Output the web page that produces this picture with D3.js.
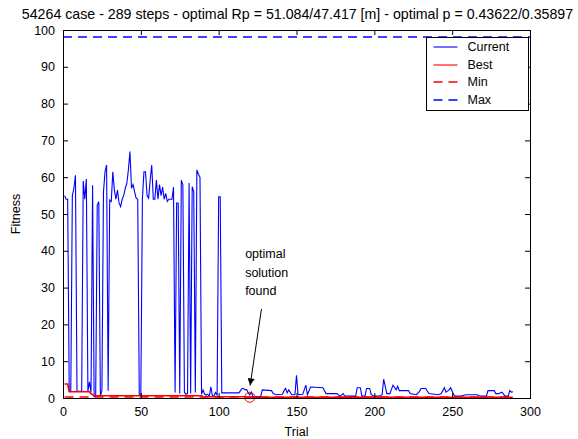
<!DOCTYPE html>
<html>
<head>
<meta charset="utf-8">
<script src="https://cdn.jsdelivr.net/npm/d3@7"></script>
<style>
  body { margin: 0; background: #fff; }
  svg { display: block; font-family: "Liberation Sans", Arial, sans-serif; }
</style>
</head>
<body>
<div id="chart"></div>
<script>
// chart data
const titleText = "54264 case - 289 steps - optimal Rp = 51.084/47.417 [m] - optimal p = 0.43622/0.35897";
const xTicks = [0, 50, 100, 150, 200, 250, 300];
const yTicks = [0, 10, 20, 30, 40, 50, 60, 70, 80, 90, 100];

// current fitness per trial [trial, value]
const current = [
  [1,55],[2,54],[3,54],[4,1.8],[5,1.8],[6,55],[7,57],[8,60.5],[9,1.8],[10,1.8],
  [11,1.8],[12,1.8],[13,59],[14,54],[15,59.5],[16,1.8],[17,4.4],[18,1.5],[19,57.8],[20,0.4],
  [21,0.5],[22,52.5],[23,53.3],[24,0.5],[25,2],[26,56],[27,61.5],[28,63.3],[29,2],[30,53.8],
  [31,53.4],[32,61.5],[33,56.5],[34,54],[35,56.5],[36,53],[37,52],[38,54],[39,55],[40,57],
  [41,58.3],[42,62],[43,67],[44,57],[45,58],[46,56],[47,54.3],[48,54],[49,0.8],[50,0.8],
  [51,54],[52,61.5],[53,61.5],[54,55],[55,54.3],[56,59.2],[57,63.3],[58,54],[59,54],[60,59.2],
  [61,54],[62,58],[63,55],[64,57.3],[65,54],[66,55.6],[67,53.4],[68,54],[69,54],[70,54],
  [71,57.3],[72,1.5],[73,53],[74,53],[75,1.2],[76,59.2],[77,57.9],[78,1.5],[79,1.0],[80,1.2],
  [81,58.4],[82,1.2],[83,57.4],[84,56],[85,1.5],[86,62],[87,60.8],[88,60],[89,1.0],[90,2.2],
  [91,1],[92,0.8],[93,1],[94,0.6],[95,3],[96,0.5],[97,0.6],[98,1.5],[99,0.8],[100,54.7],
  [101,54.7],[102,1.4],[113,1.4],[115,2.6],[116,2.6],[117,2.2],[118,2.3],[119,1.4],[120,0.9],
  [121,1.6],[122,0.4],[127,0.4],[128,2.2],[134,2.0],[135,1.2],[137,0.9],[141,1.0],[142,2.0],
  [143,2.6],[144,1.4],[145,2.2],[147,0.9],[149,0.9],[150,6.2],[151,0.9],[154,1.0],[156,3.5],
  [157,0.9],[159,3.0],[167,2.8],[169,1.2],[176,1.2],[178,0.5],[180,1.2],[181,0.5],[188,0.5],
  [189,2.8],[191,2.8],[192,0.5],[194,0.5],[195,2.6],[197,2.6],[198,0.9],[200,0.5],[203,0.5],
  [205,0.9],[206,5.1],[208,1.2],[210,1.2],[212,3.5],[214,2.2],[215,3.2],[216,2.0],[222,2.0],
  [223,1.2],[227,0.9],[229,1.8],[230,2.6],[233,2.6],[235,1.2],[241,0.9],[243,1.2],[245,2.8],
  [246,1.6],[248,2.2],[249,2.8],[251,0.9],[252,0.5],[256,0.6],[259,0.9],[266,0.9],[268,0.5],
  [272,0.5],[273,2.0],[277,2.0],[278,1.2],[280,1.2],[282,1.6],[284,0.5],[286,0.5],[287,2.0],
  [288,1.6],[289,1.7]
];

// best fitness so far [trial, value]
const best = [
  [1,3.8],[3,3.8],[4,1.7],[17,1.7],[18,1.2],[20,0.6],[89,0.6],[90,0.35],[120,0.35],[121,0.2],[289,0.2]
];

const minValue = 0.2;
const maxValue = 98;
const optimalTrial = 120;
const optimalValue = 0.2;

const legendLabels = ["Current", "Best", "Min", "Max"];
const annotationLines = ["optimal", "solution", "found"];

// layout
const W = 578, H = 439;
const margin = {top: 30, right: 48, bottom: 41, left: 63};
const width = W - margin.left - margin.right;
const height = H - margin.top - margin.bottom;

const svgRoot = d3.select("#chart").append("svg")
  .attr("width", W).attr("height", H);

const svg = svgRoot.append("g")
  .attr("transform", `translate(${margin.left},${margin.top})`);

const x = d3.scaleLinear().domain([0, 300]).range([0, width]);
const y = d3.scaleLinear().domain([0, 100]).range([height, 0]);

// title
svgRoot.append("text")
  .attr("x", margin.left + width / 2 + 1)
  .attr("y", 19)
  .attr("text-anchor", "middle")
  .attr("font-size", "14.2px")
  .text(titleText);

// data lines
const line = d3.line().x(d => x(d[0])).y(d => y(d[1]));

// max / min reference lines (dashed)
svg.append("line")
  .attr("x1", x(0)).attr("x2", x(300))
  .attr("y1", Math.round(y(maxValue))).attr("y2", Math.round(y(maxValue)))
  .attr("stroke", "#0000ff").attr("stroke-width", 1.4)
  .attr("stroke-dasharray", "9,6");

svg.append("line")
  .attr("x1", x(1)).attr("x2", x(289))
  .attr("y1", Math.round(y(minValue))).attr("y2", Math.round(y(minValue)))
  .attr("stroke", "#ff0000").attr("stroke-width", 1.4)
  .attr("stroke-dasharray", "9,6");

svg.append("path")
  .datum(current)
  .attr("fill", "none").attr("stroke", "#0000ff").attr("stroke-width", 1.1)
  .attr("d", line);

svg.append("path")
  .datum(best)
  .attr("fill", "none").attr("stroke", "#ff0000").attr("stroke-width", 1.6)
  .attr("d", line);

// optimal point marker
svg.append("circle")
  .attr("cx", x(optimalTrial)).attr("cy", y(optimalValue)).attr("r", 5)
  .attr("fill", "none").attr("stroke", "#ff0000").attr("stroke-width", 1);

// axes box with inward ticks (MATLAB style)
const tickLen = 5;
svg.append("g").call(d3.axisBottom(x).tickValues(xTicks).tickSize(-tickLen).tickPadding(9))
  .attr("transform", `translate(0,${height})`)
  .call(g => g.select(".domain").remove());
svg.append("g").call(d3.axisTop(x).tickValues(xTicks).tickSize(-tickLen).tickFormat(""))
  .call(g => g.select(".domain").remove());
svg.append("g").call(d3.axisLeft(y).tickValues(yTicks).tickSize(-tickLen).tickPadding(8))
  .call(g => g.select(".domain").remove());
svg.append("g").call(d3.axisRight(y).tickValues(yTicks).tickSize(-tickLen).tickFormat(""))
  .attr("transform", `translate(${width},0)`)
  .call(g => g.select(".domain").remove());

svg.selectAll(".tick text").attr("font-size", "12.5px").attr("fill", "#000")
  .attr("font-family", "Liberation Sans, Arial, sans-serif");
svg.selectAll(".tick line").attr("stroke", "#000");

svg.append("rect")
  .attr("x", 0.5).attr("y", 0.5)
  .attr("width", width).attr("height", height)
  .attr("fill", "none").attr("stroke", "#000").attr("stroke-width", 1);

// axis labels
svgRoot.append("text")
  .attr("x", margin.left + width / 2).attr("y", 436)
  .attr("text-anchor", "middle").attr("font-size", "12.5px")
  .text("Trial");

svgRoot.append("text")
  .attr("transform", `translate(20,${margin.top + height / 2}) rotate(-90)`)
  .attr("text-anchor", "middle").attr("font-size", "12.5px")
  .text("Fitness");

// annotation
const ann = svg.append("text")
  .attr("font-size", "12.5px");
annotationLines.forEach((t, i) => {
  ann.append("tspan")
    .attr("x", x(117)).attr("y", y(38) + i * 18.5)
    .text(t);
});

svg.append("defs").append("marker")
  .attr("id", "arrow")
  .attr("viewBox", "0 0 10 10")
  .attr("refX", 10).attr("refY", 5)
  .attr("markerWidth", 10).attr("markerHeight", 7)
  .attr("markerUnits", "userSpaceOnUse")
  .attr("orient", "auto")
  .append("path").attr("d", "M0,0 L10,5 L0,10 Z").attr("fill", "#000");

svg.append("line")
  .attr("x1", x(127.5)).attr("y1", y(24.2))
  .attr("x2", x(120.2)).attr("y2", y(3.4))
  .attr("stroke", "#000").attr("stroke-width", 1)
  .attr("marker-end", "url(#arrow)");

// legend
const lg = svgRoot.append("g").attr("transform", "translate(426.5,37.5)");
lg.append("rect")
  .attr("width", 102).attr("height", 73)
  .attr("fill", "#fff").attr("stroke", "#000").attr("stroke-width", 1);

const legendStyles = [
  {color: "#0000ff", dash: null, w: 1.1},
  {color: "#ff0000", dash: null, w: 1.1},
  {color: "#ff0000", dash: "9,6", w: 1.4},
  {color: "#0000ff", dash: "9,6", w: 1.4}
];

legendLabels.forEach((label, i) => {
  const yy = Math.round(9 + i * 17.7) + 0.5;
  lg.append("line")
    .attr("x1", 7).attr("x2", 31).attr("y1", yy).attr("y2", yy)
    .attr("stroke", legendStyles[i].color).attr("stroke-width", legendStyles[i].w)
    .attr("stroke-dasharray", legendStyles[i].dash);
  lg.append("text")
    .attr("x", 41).attr("y", yy + 4)
    .attr("font-size", "12.5px")
    .text(label);
});
</script>
</body>
</html>
